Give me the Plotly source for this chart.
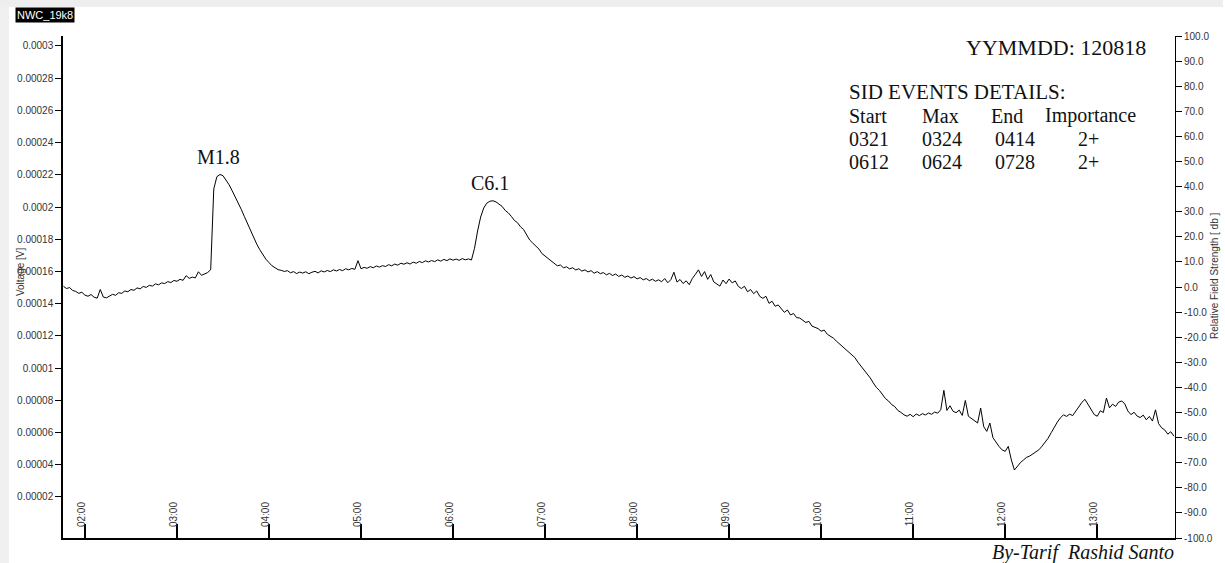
import pandas as pd
import plotly.graph_objects as go

# Sample times: minutes after midnight (UT), 2-minute sampling
sample_minutes = list(range(106, 831, 2))

# NWC 19.8 kHz receiver output, in microvolts
voltage_uv = [
    150.8, 149.4, 150.0, 148.2, 147.6, 146.4, 147.1, 145.3, 144.6, 145.7, 144.0, 143.4, 148.8, 144.1, 143.6,
    144.7, 145.8, 145.2, 146.8, 146.4, 147.9, 147.4, 148.8, 148.3, 149.8, 149.2, 150.7, 150.1, 151.4, 150.9,
    152.3, 151.7, 152.9, 152.5, 153.7, 153.1, 154.4, 153.9, 155.1, 154.5, 157.4, 155.7, 156.5, 156.0, 159.8,
    157.6, 158.4, 159.3, 161.1, 211.2, 218.8, 220.2, 219.5, 216.8, 213.8, 210.1, 206.5, 202.6, 198.4, 194.0,
    189.5, 185.2, 180.7, 177.0, 173.5, 170.3, 167.6, 165.5, 163.5, 162.3, 161.1, 160.7, 160.0, 160.5, 159.2,
    159.9, 158.7, 159.6, 159.0, 159.8, 158.6, 159.5, 160.1, 159.1, 160.4, 159.7, 160.6, 159.9, 161.0, 160.3,
    161.2, 160.5, 161.7, 161.0, 161.9, 161.3, 166.7, 161.7, 162.5, 162.0, 163.0, 162.3, 163.4, 162.7, 163.6,
    163.1, 164.2, 163.5, 164.6, 163.9, 165.1, 164.5, 165.4, 164.6, 165.8, 165.1, 166.2, 165.5, 166.6, 165.9,
    166.8, 166.1, 167.2, 166.4, 167.5, 166.7, 167.8, 167.0, 167.7, 166.9, 168.0, 167.2, 167.8, 167.1, 174.4,
    185.1, 193.8, 199.4, 202.4, 203.6, 203.9, 203.2, 201.8, 200.4, 197.9, 196.4, 194.2, 191.7, 190.3, 187.7,
    186.0, 182.9, 179.5, 177.6, 175.5, 173.9, 171.1, 169.5, 167.8, 166.5, 165.2, 163.5, 164.0, 162.3, 162.9,
    161.6, 162.3, 160.9, 161.7, 160.2, 161.0, 159.7, 160.5, 158.9, 159.9, 158.6, 159.3, 157.9, 158.8, 157.5,
    158.4, 156.9, 157.8, 156.4, 157.2, 155.9, 156.8, 155.4, 156.2, 154.8, 155.6, 154.3, 155.2, 153.9, 154.8,
    153.6, 155.6, 153.0, 154.9, 159.5, 153.4, 155.0, 152.5, 154.2, 151.8, 155.6, 158.2, 161.0, 156.9, 159.9,
    155.1, 158.1, 153.5, 151.9, 150.9, 154.7, 152.4, 155.3, 152.9, 154.1, 150.7, 149.4, 150.8, 147.4, 148.8,
    146.2, 147.9, 144.5, 143.3, 144.6, 140.2, 141.5, 138.4, 139.2, 136.5, 134.6, 136.1, 133.0, 133.9, 131.3,
    131.1, 129.6, 128.3, 129.0, 126.1, 125.3, 124.5, 122.9, 123.6, 121.0, 119.9, 118.6, 116.7, 115.1, 113.5,
    111.5, 110.0, 108.4, 106.5, 103.6, 101.3, 98.8, 96.3, 93.9, 90.8, 88.0, 86.1, 83.3, 81.0, 79.5,
    77.3, 76.1, 73.7, 72.5, 71.0, 70.1, 71.3, 69.8, 71.5, 70.5, 71.7, 70.9, 72.1, 71.3, 72.7,
    72.0, 74.2, 86.2, 73.7, 76.6, 73.2, 72.3, 73.9, 70.6, 79.9, 70.1, 68.7, 67.4, 65.9, 75.2,
    63.6, 60.7, 65.9, 56.8, 53.8, 51.3, 49.2, 48.3, 51.4, 43.0, 36.7, 39.3, 41.4, 43.0, 44.6,
    45.4, 46.8, 47.8, 49.3, 51.5, 54.1, 56.5, 59.9, 63.4, 66.5, 69.1, 71.0, 70.0, 71.4, 70.5,
    73.2, 76.1, 78.7, 80.6, 77.3, 74.0, 71.2, 70.1, 73.5, 72.4, 81.4, 75.3, 77.6, 76.2, 78.9,
    79.6, 77.7, 73.3, 71.1, 72.6, 70.2, 69.3, 70.8, 67.9, 70.0, 67.1, 74.1, 65.5, 62.9, 61.6, 59.0, 60.5, 57.7,
]

hour_labels = ["02:00", "03:00", "04:00", "05:00", "06:00", "07:00",
               "08:00", "09:00", "10:00", "11:00", "12:00", "13:00"]

voltage_ticks = ["0.00002", "0.00004", "0.00006", "0.00008", "0.0001", "0.00012", "0.00014",
                 "0.00016", "0.00018", "0.0002", "0.00022", "0.00024", "0.00026", "0.00028", "0.0003"]

db_ticks = [100, 90, 80, 70, 60, 50, 40, 30, 20, 10, 0,
            -10, -20, -30, -40, -50, -60, -70, -80, -90, -100]

# Flare peaks marked on the trace: (label, time of peak, voltage in microvolts)
flare_labels = [("M1.8", "03:27", 220.2), ("C6.1", "06:24", 203.9)]

event_header = ["Start", "Max", "End", "Importance"]
event_rows = [["0321", "0324", "0414", "2+"],
              ["0612", "0624", "0728", "2+"]]

day = pd.Timestamp("2012-08-18")
times = day + pd.to_timedelta(sample_minutes, unit="min")
volts = [v * 1e-6 for v in voltage_uv]
hour_vals = [day + pd.Timedelta(hours=int(h[:2])) for h in hour_labels]

W, H = 1225, 563
L, R, T, B = 63, 48, 36, 25
PW, PH = W - L - R, H - T - B


def px(x):
    return (x - L) / PW


def py(y):
    return (H - B - y) / PH


narrow = "Liberation Sans Narrow, Arial Narrow, Liberation Sans, Arial"
serif = "Liberation Serif, Times New Roman, serif"
tick_font = dict(family=narrow, size=10, color="#333")

x_start = day + pd.Timedelta(minutes=105.7)
x_end = day + pd.Timedelta(minutes=830.7)
# hour labels sit a little to the left of their tick marks
label_shift = pd.Timedelta(minutes=2)

fig = go.Figure()
fig.add_trace(go.Scatter(x=times, y=volts, mode="lines",
                         line=dict(color="#000000", width=1), hoverinfo="skip",
                         showlegend=False))
# attach the field-strength axis and the hour-label axis to the plot
fig.add_trace(go.Scatter(x=[times[0]], y=[0], yaxis="y2", mode="lines",
                         line=dict(color="rgba(0,0,0,0)"), hoverinfo="skip",
                         showlegend=False))
fig.add_trace(go.Scatter(x=[times[0]], y=[volts[0]], xaxis="x2", mode="lines",
                         line=dict(color="rgba(0,0,0,0)"), hoverinfo="skip",
                         showlegend=False))

fig.update_layout(
    width=W, height=H,
    margin=dict(l=L, r=R, t=T, b=B),
    paper_bgcolor="white", plot_bgcolor="white",
    xaxis=dict(
        type="date", range=[x_start, x_end],
        tickvals=hour_vals, showticklabels=False,
        ticks="inside", ticklen=14, tickwidth=2, tickcolor="#000",
        showline=True, linecolor="#000", linewidth=2,
        showgrid=False, zeroline=False,
    ),
    xaxis2=dict(
        type="date", overlaying="x", anchor="free", position=py(499), side="bottom",
        range=[x_start + label_shift, x_end + label_shift],
        tickvals=hour_vals, ticktext=hour_labels, tickangle=-90,
        ticks="", showline=False, showgrid=False, zeroline=False,
        tickfont=tick_font,
    ),
    yaxis=dict(
        range=[-0.0000055, 0.0003062],
        tickvals=[float(t) for t in voltage_ticks], ticktext=voltage_ticks,
        ticks="outside", ticklen=6, tickwidth=1, tickcolor="#000",
        showline=True, linecolor="#000", linewidth=1.5,
        showgrid=False, zeroline=False, tickfont=tick_font,
    ),
    yaxis2=dict(
        overlaying="y", side="right", anchor="x", range=[-100, 100],
        tickvals=db_ticks, ticktext=[f"{v:.1f}" for v in db_ticks],
        ticks="outside", ticklen=6, tickwidth=1, tickcolor="#000",
        showline=True, linecolor="#000", linewidth=1,
        showgrid=False, zeroline=False, tickfont=tick_font,
    ),
)

ann = []
for label, t, v in flare_labels:
    ann.append(dict(x=day + pd.Timedelta(hours=int(t[:2]), minutes=int(t[3:])), y=v * 1e-6,
                    xref="x", yref="y", text=label, showarrow=False,
                    xanchor="center", yanchor="bottom", yshift=5,
                    font=dict(family=serif, size=20, color="#111")))


def paper_text(x, y, text, size, xanchor="left", family=serif, **kw):
    return dict(x=px(x), y=py(y), xref="paper", yref="paper", text=text,
                showarrow=False, xanchor=xanchor, yanchor="middle",
                font=dict(family=family, size=size, color=kw.pop("color", "#111")), **kw)


ann.append(paper_text(1150, 48, "YYMMDD: 120818", 22, xanchor="right"))
ann.append(paper_text(848, 92, "SID EVENTS DETAILS:", 21))
col_x = [848, 922, 991, 1045]
row_y = [116, 139, 162]
for j, h in enumerate(event_header):
    ann.append(paper_text(col_x[j], row_y[0], h, 20))
cell_x = [848, 922, 995, 1078]
for i, row in enumerate(event_rows):
    for j, c in enumerate(row):
        ann.append(paper_text(cell_x[j], row_y[i + 1], c, 20))

ann.append(paper_text(45, 15, "NWC_19k8", 11, xanchor="center", family=narrow,
                      color="#fff", bgcolor="#000", borderpad=1))
ann.append(paper_text(20, 272, "Voltage [V]", 10, xanchor="center", family=narrow,
                      color="#333", textangle=-90))
ann.append(paper_text(1216, 276, "Relative Field Strength [ db ]", 10, xanchor="center",
                      family=narrow, color="#333", textangle=-90))
ann.append(paper_text(1178, 552, "<i>By-Tarif  Rashid Santo</i>", 20, xanchor="right"))
fig.update_layout(annotations=ann)

# light frame strips at the page edges
fig.add_shape(type="rect", xref="paper", yref="paper",
              x0=px(0), x1=px(9), y0=py(H), y1=py(0),
              fillcolor="#f0f0f0", line=dict(width=0), layer="below")
fig.add_shape(type="rect", xref="paper", yref="paper",
              x0=px(0), x1=px(W), y0=py(7), y1=py(0),
              fillcolor="#eeeeee", line=dict(width=0), layer="below")

fig.write_html("out.html")
